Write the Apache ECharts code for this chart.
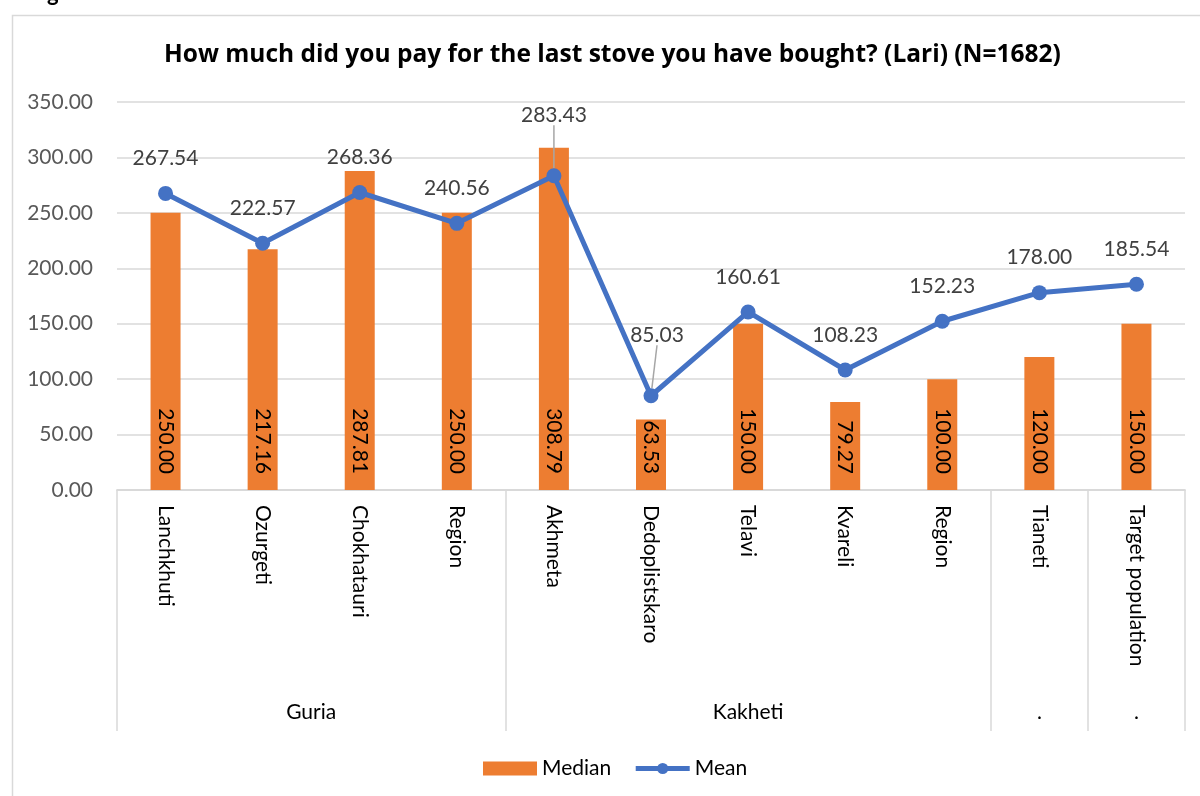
<!DOCTYPE html>
<html lang="en">
	<head>
		<meta charset="UTF-8" />
		<title>Stove price</title>
		<script src="https://cdn.jsdelivr.net/npm/echarts@6/dist/echarts.min.js"></script>
		<style>
			html, body { margin: 0; padding: 0; background: #fff; }
			#chart { width: 1200px; height: 796px; }
		</style>
	</head>
	<body>
		<div id="chart"></div>
		<script>
			const categories = ["Lanchkhuti", "Ozurgeti", "Chokhatauri", "Region", "Akhmeta", "Dedoplistskaro", "Telavi", "Kvareli", "Region", "Tianeti", "Target population"];
			const median = [250.0, 217.16, 287.81, 250.0, 308.79, 63.53, 150.0, 79.27, 100.0, 120.0, 150.0];
			const mean = [267.54, 222.57, 268.36, 240.56, 283.43, 85.03, 160.61, 108.23, 152.23, 178.0, 185.54];
			const groupNames = ["Guria", "Kakheti", ".", "."];
			const groupSizes = [4, 5, 1, 1];
			const yTicks = [0, 50, 100, 150, 200, 250, 300, 350];

			// group boundaries and centres on a 0..11 scale
			const bounds = [0];
			const centres = [];
			groupSizes.forEach((n) => {
				const start = bounds[bounds.length - 1];
				centres.push(start + n / 2);
				bounds.push(start + n);
			});

			const font = "Lato";
			const grey = "#d9d9d9";
			const chart = echarts.init(document.getElementById("chart"));

			chart.setOption({
				animation: false,
				textStyle: { fontFamily: font },
				title: {
					text: "How much did you pay for the last stove you have bought? (Lari) (N=1682)",
					left: 159,
					top: 38,
					textStyle: { fontSize: 24.5, fontWeight: "bold", color: "#000", fontFamily: "Open Sans" }
				},
				graphic: [
					{ type: "rect", left: 10, top: 13, shape: { width: 1250, height: 820 }, style: { fill: "none", stroke: grey, lineWidth: 1.5 }, silent: true },
					{ type: "text", left: 47, top: -17, style: { text: "g", font: "bold 22px Lato", fill: "#000" } }
				],
				legend: {
					bottom: 12,
					left: 478,
					itemWidth: 54,
					itemHeight: 14,
					itemGap: 22,
					textStyle: { fontSize: 21, color: "#000" },
					data: [
						{ name: "Median", icon: "rect" },
						{ name: "Mean", lineStyle: { width: 5 } }
					]
				},
				grid: { left: 117, right: 15, top: 102, bottom: 306 },
				xAxis: [
					{
						type: "category",
						data: categories,
						axisLine: { lineStyle: { color: grey, width: 1.5 } },
						axisTick: { show: false },
						axisLabel: { rotate: -90, margin: 15, fontSize: 21, color: "#000", interval: 0 }
					},
					{
						type: "value",
						min: 0,
						max: categories.length,
						position: "bottom",
						splitLine: { show: false },
						axisLine: { show: true, lineStyle: { color: grey, width: 1.5 } },
						axisTick: { show: true, customValues: bounds, length: 241, lineStyle: { color: grey, width: 1.5 } },
						axisLabel: {
							customValues: centres,
							margin: 212,
							fontSize: 21,
							color: "#000",
							formatter: (v) => groupNames[centres.indexOf(v)]
						}
					}
				],
				yAxis: {
					type: "value",
					min: yTicks[0],
					max: yTicks[yTicks.length - 1],
					interval: 50,
					axisLine: { show: false },
					axisTick: { show: false },
					splitLine: { lineStyle: { color: grey, width: 1.5 } },
					axisLabel: { margin: 24, fontSize: 21, color: "#595959", formatter: (v) => v.toFixed(2) }
				},
				series: [
					{
						name: "Median",
						type: "bar",
						data: median,
						barWidth: 30,
						itemStyle: { color: "#ED7D31" },
						label: {
							show: true,
							position: "insideBottom",
							rotate: -90,
							align: "right",
							verticalAlign: "middle",
							distance: 16,
							fontSize: 21,
							color: "#000",
							formatter: (p) => p.value.toFixed(2)
						}
					},
					{
						name: "Mean",
						type: "line",
						data: mean.map((v, i) => (i === 4 || i === 5 ? { value: v, labelLine: { show: true } } : v)),
						symbol: "circle",
						symbolSize: 15,
						lineStyle: { color: "#4472C4", width: 5 },
						itemStyle: { color: "#4472C4" },
						label: {
							show: true,
							position: "top",
							distance: 17,
							fontSize: 21,
							color: "#404040",
							formatter: (p) => p.value.toFixed(2)
						},
						labelLine: { lineStyle: { color: "#a6a6a6", width: 1.5 } },
						labelLayout: (p) => {
							if (p.dataIndex === 4) return { dy: -26 };
							if (p.dataIndex === 5) return { dx: 6, dy: -26 };
							return {};
						}
					}
				]
			});
		</script>
	</body>
</html>
